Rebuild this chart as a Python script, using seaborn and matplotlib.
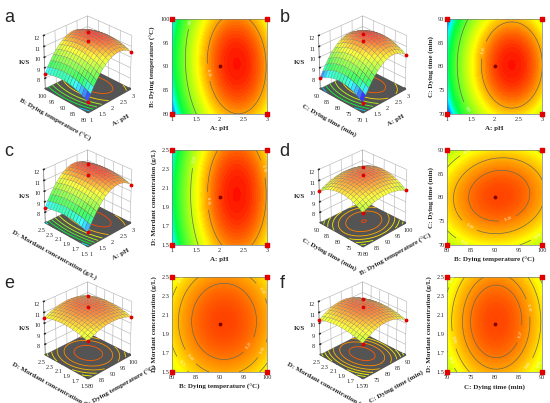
import numpy as np
import matplotlib
matplotlib.use("Agg")
import matplotlib.pyplot as plt
import seaborn as sns
from matplotlib.colors import LinearSegmentedColormap, Normalize
from mpl_toolkits.mplot3d.art3d import Poly3DCollection

sns.set_theme(style="white")
plt.rcParams['font.family'] = ['Liberation Serif', 'DejaVu Serif']

# factors: A pH, B temperature, C time, D mordant concentration
factor_names = ["A: pH", "B: Dying temperature (°C)", "C: Dying time (min)",
                "D: Mordant concentration (g/L)"]
factor_low = [1, 80, 70, 1.5]
factor_high = [3, 100, 90, 2.5]
ph_ticks = [1, 1.5, 2, 2.5, 3]
temp_ticks = [80, 85, 90, 95, 100]
time_ticks = [70, 75, 80, 85, 90]
conc_ticks = [1.5, 1.7, 1.9, 2.1, 2.3, 2.5]
factor_ticks = [ph_ticks, temp_ticks, time_ticks, conc_ticks]
ks_ticks = [8, 9, 10, 11, 12]

# quadratic response model for K/S (coded units)
intercept = 11.5
linear = [1.15, 0.10, 0.05, 0.05]
quadratic = [-1.6, -0.55, -0.8, -0.4]
inter_AB = -0.10
inter_BC = 0.10

# panels: letter, x factor, y factor, contour levels of the 2D plot
panel_letters = ["a", "b", "c", "d", "e", "f"]
panel_x = [0, 0, 0, 1, 1, 2]
panel_y = [1, 2, 3, 2, 3, 3]
panel_levels = [[9.85, 11.1], [9.6, 11.05], [10.2, 11.1],
                [10.5, 11.0, 11.28], [10.75, 11.0, 11.25], [10.5, 10.8, 11.1, 11.27]]

cmap_vals = [7.9, 8.5, 9.0, 10.65, 11.2, 11.8]
cmap_cols = ["#0000ff", "#00ffff", "#00ff40", "#ffff00", "#ff8c00", "#ff0000"]
norm = Normalize(cmap_vals[0], cmap_vals[-1])
cmap = LinearSegmentedColormap.from_list(
    "de", list(zip([(v - cmap_vals[0]) / (cmap_vals[-1] - cmap_vals[0]) for v in cmap_vals], cmap_cols)))


def ks(coded):
    y = intercept
    for i in range(4):
        y = y + linear[i] * coded[i] + quadratic[i] * coded[i] ** 2
    y = y + inter_AB * coded[0] * coded[1] + inter_BC * coded[1] * coded[2]
    return y


def grid(ix, iy, n=41):
    xs = np.linspace(factor_low[ix], factor_high[ix], n)
    ys = np.linspace(factor_low[iy], factor_high[iy], n)
    X, Y = np.meshgrid(xs, ys)
    coded = [np.zeros_like(X) for _ in range(4)]
    coded[ix] = (X - (factor_low[ix] + factor_high[ix]) / 2) / ((factor_high[ix] - factor_low[ix]) / 2)
    coded[iy] = (Y - (factor_low[iy] + factor_high[iy]) / 2) / ((factor_high[iy] - factor_low[iy]) / 2)
    return X, Y, ks(coded)


def fmt(t):
    return f"{t:g}"


fig = plt.figure(figsize=(5.5, 4.03), dpi=100)
row_top = [0, 134, 266]
cont_bottom = [0.717, 0.392, 0.077]
cont_left = [0.313, 0.813]
zfloor = 7.0

for k in range(6):
    r, c = k // 2, k % 2
    ix, iy = panel_x[k], panel_y[k]
    x0, x1 = factor_low[ix], factor_high[ix]
    y0, y1 = factor_low[iy], factor_high[iy]

    # ---- 3D surface ----
    ax = fig.add_axes([c * 0.5 - 0.009, 1 - (row_top[r] + 134) / 403, 0.33, 0.345],
                      projection='3d', computed_zorder=False)
    ax.set_facecolor((1, 1, 1, 0))
    X, Y, Z = grid(ix, iy, 31)
    floor = Poly3DCollection([[(x0, y0, zfloor), (x1, y0, zfloor), (x1, y1, zfloor), (x0, y1, zfloor)]],
                             facecolor="#545454", edgecolor="#545454", zorder=1)
    ax.add_collection3d(floor)
    ax.contour(X, Y, Z, levels=6, zdir='z', offset=zfloor, cmap=cmap, norm=norm,
               linewidths=0.6, zorder=2)
    fc = cmap(norm(Z))
    fc[..., :3] = fc[..., :3] * 0.78 + 0.22
    ax.plot_surface(X, Y, Z, facecolors=fc, rcount=30, ccount=30, shade=False,
                    edgecolor="#666666", linewidth=0.15, zorder=3)
    Xp, Yp, Zp = grid(ix, iy, 3)
    ax.scatter([x0, x1, x0, x1, (x0 + x1) / 2], [y0, y0, y1, y1, (y0 + y1) / 2],
               [Zp[0, 0], Zp[0, 2], Zp[2, 0], Zp[2, 2], Zp[1, 1]],
               color="#e00000", s=3, depthshade=False, zorder=4)
    ax.view_init(elev=30, azim=-135)
    ax.set_xlim(x0, x1)
    ax.set_ylim(y0, y1)
    ax.set_zlim(zfloor, 12)
    ax.set_box_aspect((1, 1, 1.0), zoom=0.74)
    ax.set_xticks(factor_ticks[ix])
    ax.set_yticks(factor_ticks[iy])
    ax.set_zticks(ks_ticks)
    ax.set_xticklabels([fmt(t) for t in factor_ticks[ix]])
    ax.set_yticklabels([fmt(t) for t in factor_ticks[iy]])
    ax.set_zticklabels([fmt(t) for t in ks_ticks])
    for axis in (ax.xaxis, ax.yaxis, ax.zaxis):
        axis.set_pane_color((1, 1, 1, 1))
        axis._axinfo['grid'].update(color="#b0b0b0", linewidth=0.4)
        axis._axinfo['tick'].update(inward_factor=0, outward_factor=0.2)
        axis.line.set_color("#888888")
        axis.line.set_linewidth(0.5)
    ax.tick_params(labelsize=4.5, pad=-4)
    ax.set_xlabel(factor_names[ix], fontsize=5, fontweight='bold', labelpad=-7)
    ax.set_ylabel(factor_names[iy], fontsize=5, fontweight='bold', labelpad=-7)
    ax.set_zlabel("K/S", fontsize=5, fontweight='bold', labelpad=-9)

    # ---- 2D contour ----
    ax2 = fig.add_axes([cont_left[c], cont_bottom[r], 0.173, 0.236])
    X, Y, Z = grid(ix, iy, 81)
    ax2.contourf(X, Y, Z, levels=80, cmap=cmap, norm=norm)
    cs = ax2.contour(X, Y, Z, levels=panel_levels[k], colors="#6a6a50", linewidths=0.5)
    ax2.clabel(cs, fontsize=2.5, colors="white", fmt="%.2f")
    ax2.scatter([x0, x1, x0, x1], [y0, y0, y1, y1],
                color="#e00000", s=5, marker='s', clip_on=False, zorder=5)
    ax2.scatter([(x0 + x1) / 2], [(y0 + y1) / 2], color="#800000", s=3, zorder=5)
    ax2.set_xlim(x0, x1)
    ax2.set_ylim(y0, y1)
    ax2.set_xticks(factor_ticks[ix])
    ax2.set_yticks(factor_ticks[iy])
    ax2.set_xticklabels([fmt(t) for t in factor_ticks[ix]])
    ax2.set_yticklabels([fmt(t) for t in factor_ticks[iy]])
    ax2.tick_params(labelsize=4.5, length=1.5, width=0.4, direction='in', pad=2)
    for s in ax2.spines.values():
        s.set_linewidth(0.5)
        s.set_color("#777777")
    ax2.set_xlabel(factor_names[ix], fontsize=5, fontweight='bold', labelpad=3)
    ax2.set_ylabel(factor_names[iy], fontsize=5, fontweight='bold', labelpad=3)

    # panel letter
    fig.text(c * 0.5 + 0.008, 1 - (row_top[r] + 22) / 403, panel_letters[k],
             fontsize=13, family='Liberation Sans')

fig.savefig("out.png", dpi=100)
